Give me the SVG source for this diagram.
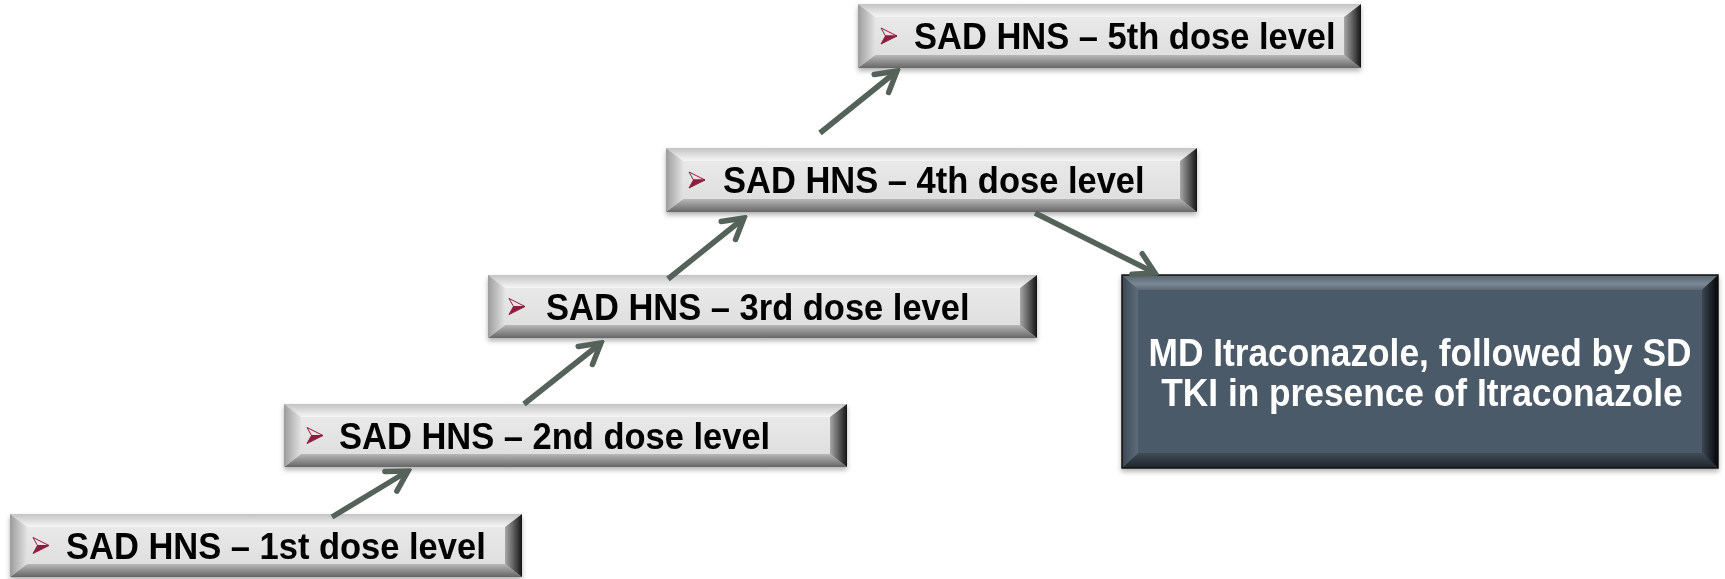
<svg xmlns="http://www.w3.org/2000/svg" width="1725" height="579" viewBox="0 0 1725 579">
  <defs>
    <linearGradient id="gFace" x1="0" y1="0" x2="0" y2="1">
      <stop offset="0" stop-color="#ececec"/>
      <stop offset="1" stop-color="#dcdcdc"/>
    </linearGradient>
    <linearGradient id="gTop" x1="0" y1="0" x2="0" y2="1">
      <stop offset="0" stop-color="#c4c4c4"/>
      <stop offset="1" stop-color="#f6f6f6"/>
    </linearGradient>
    <linearGradient id="gBot" x1="0" y1="0" x2="0" y2="1">
      <stop offset="0" stop-color="#b8b8b8"/>
      <stop offset="1" stop-color="#666666"/>
    </linearGradient>
    <linearGradient id="gLeft" x1="0" y1="0" x2="1" y2="0">
      <stop offset="0" stop-color="#9c9c9c"/>
      <stop offset="1" stop-color="#e2e2e2"/>
    </linearGradient>
    <linearGradient id="gRight" x1="0" y1="0" x2="1" y2="0">
      <stop offset="0" stop-color="#a8a8a8"/>
      <stop offset="1" stop-color="#141414"/>
    </linearGradient>
    <linearGradient id="dTop" x1="0" y1="0" x2="0" y2="1">
      <stop offset="0" stop-color="#56636f"/>
      <stop offset="0.6" stop-color="#7b8894"/>
      <stop offset="1" stop-color="#5a6876"/>
    </linearGradient>
    <linearGradient id="dBot" x1="0" y1="0" x2="0" y2="1">
      <stop offset="0" stop-color="#3f4b57"/>
      <stop offset="1" stop-color="#1e252c"/>
    </linearGradient>
    <linearGradient id="dLeft" x1="0" y1="0" x2="1" y2="0">
      <stop offset="0" stop-color="#3c4853"/>
      <stop offset="1" stop-color="#5e6c79"/>
    </linearGradient>
    <linearGradient id="dRight" x1="0" y1="0" x2="1" y2="0">
      <stop offset="0" stop-color="#3c4753"/>
      <stop offset="1" stop-color="#050607"/>
    </linearGradient>
    <filter id="sh" x="-5%" y="-20%" width="110%" height="150%">
      <feDropShadow dx="0" dy="3" stdDeviation="2.5" flood-color="#000" flood-opacity="0.3"/>
    </filter>
    <marker id="ah" viewBox="-26 -16 30 32" refX="0" refY="0" markerWidth="30" markerHeight="32" orient="auto" markerUnits="userSpaceOnUse">
      <path d="M-20,-11.5 L0,0 L-20,11.5" fill="none" stroke="#55625a" stroke-width="5.5" stroke-linecap="round" stroke-linejoin="miter"/>
    </marker>
    <g id="bullet">
      <path d="M0,0 L16,8 L4.5,8 Z" fill="#f4dfe5" stroke="#8c1d40" stroke-width="1"/>
      <path d="M4.5,8 L16,8 L0,16 Z" fill="#8c1d40" stroke="#8c1d40" stroke-width="1"/>
    </g>
  </defs>
  <style>
    .face{fill:url(#gFace)}
    .bt{fill:url(#gTop)}
    .bb{fill:url(#gBot)}
    .bl{fill:url(#gLeft)}
    .br{fill:url(#gRight)}
    .lbl{font-family:"Liberation Sans",Arial,sans-serif;font-weight:bold;font-size:34.5px;fill:#000}
    .dface{fill:#4b5a68}
    .dt{fill:url(#dTop)}
    .db{fill:url(#dBot)}
    .dl{fill:url(#dLeft)}
    .dr{fill:url(#dRight)}
    .dlbl{font-family:"Liberation Sans",Arial,sans-serif;font-weight:bold;font-size:35.3px;fill:#ffffff;text-anchor:middle}
    .conn{fill:none;stroke:#55625a;stroke-width:5.5;stroke-linecap:butt;marker-end:url(#ah)}
  </style>
  <rect width="1725" height="579" fill="#ffffff"/>

  <!-- Box 1: x10 y514 w512 h63 -->
  <g id="node1" transform="translate(10,514)" filter="url(#sh)">
    <rect class="face" x="0" y="0" width="512" height="63"/>
    <polygon class="bt" points="0,0 512,0 495,13 17,13"/>
    <polygon class="bb" points="0,63 512,63 495,50 17,50"/>
    <polygon class="bl" points="0,0 17,13 17,50 0,63"/>
    <polygon class="br" points="512,0 495,13 495,50 512,63"/>
    <use href="#bullet" x="23" y="23.5"/>
    <text class="lbl" transform="translate(56,44.5) scale(1,1.08)">SAD HNS – 1st dose level</text>
  </g>

  <!-- Box 2: x284 y404 w563 h63 -->
  <g id="node2" transform="translate(284,404)" filter="url(#sh)">
    <rect class="face" x="0" y="0" width="563" height="63"/>
    <polygon class="bt" points="0,0 563,0 546,13 17,13"/>
    <polygon class="bb" points="0,63 563,63 546,50 17,50"/>
    <polygon class="bl" points="0,0 17,13 17,50 0,63"/>
    <polygon class="br" points="563,0 546,13 546,50 563,63"/>
    <use href="#bullet" x="23" y="23.5"/>
    <text class="lbl" transform="translate(55,44.5) scale(1,1.08)">SAD HNS – 2nd dose level</text>
  </g>

  <!-- Box 3: x488 y275 w549 h63 -->
  <g id="node3" transform="translate(488,275)" filter="url(#sh)">
    <rect class="face" x="0" y="0" width="549" height="63"/>
    <polygon class="bt" points="0,0 549,0 532,13 17,13"/>
    <polygon class="bb" points="0,63 549,63 532,50 17,50"/>
    <polygon class="bl" points="0,0 17,13 17,50 0,63"/>
    <polygon class="br" points="549,0 532,13 532,50 549,63"/>
    <use href="#bullet" x="21" y="23.5"/>
    <text class="lbl" transform="translate(58,44.5) scale(1,1.08)">SAD HNS – 3rd dose level</text>
  </g>

  <!-- Box 4: x666 y148 w531 h64 -->
  <g id="node4" transform="translate(666,148)" filter="url(#sh)">
    <rect class="face" x="0" y="0" width="531" height="64"/>
    <polygon class="bt" points="0,0 531,0 514,13 17,13"/>
    <polygon class="bb" points="0,64 531,64 514,51 17,51"/>
    <polygon class="bl" points="0,0 17,13 17,51 0,64"/>
    <polygon class="br" points="531,0 514,13 514,51 531,64"/>
    <use href="#bullet" x="23" y="24"/>
    <text class="lbl" transform="translate(57,45) scale(1,1.08)">SAD HNS – 4th dose level</text>
  </g>

  <!-- Box 5: x858 y4 w503 h64 -->
  <g id="node5" transform="translate(858,4)" filter="url(#sh)">
    <rect class="face" x="0" y="0" width="503" height="64"/>
    <polygon class="bt" points="0,0 503,0 486,13 17,13"/>
    <polygon class="bb" points="0,64 503,64 486,51 17,51"/>
    <polygon class="bl" points="0,0 17,13 17,51 0,64"/>
    <polygon class="br" points="503,0 486,13 486,51 503,64"/>
    <use href="#bullet" x="23" y="24"/>
    <text class="lbl" transform="translate(56,45) scale(1,1.08)">SAD HNS – 5th dose level</text>
  </g>

  <!-- Dark box: x1122 y275 w596 h193 -->
  <g id="node6" transform="translate(1122,275)" filter="url(#sh)">
    <rect class="dface" x="0" y="0" width="596" height="193"/>
    <polygon class="dt" points="0,0 596,0 580,15 16,15"/>
    <polygon class="db" points="0,193 596,193 580,178 16,178"/>
    <polygon class="dl" points="0,0 16,15 16,178 0,193"/>
    <polygon class="dr" points="596,0 580,15 580,178 596,193"/>
    <rect x="0" y="0" width="596" height="193" fill="none" stroke="#111" stroke-width="1.5"/>
    <text class="dlbl" transform="translate(298,91) scale(1,1.08)">MD Itraconazole, followed by SD</text>
    <text class="dlbl" transform="translate(300,131) scale(1,1.08)">TKI in presence of Itraconazole</text>
  </g>

  <g id="connectors">
    <line class="conn" x1="332" y1="517" x2="408" y2="471"/>
    <line class="conn" x1="524" y1="404" x2="601" y2="343"/>
    <line class="conn" x1="668" y1="279" x2="744" y2="218"/>
    <line class="conn" x1="820" y1="133" x2="897" y2="71"/>
    <line class="conn" x1="1035" y1="213" x2="1155" y2="273"/>
  </g>
</svg>
